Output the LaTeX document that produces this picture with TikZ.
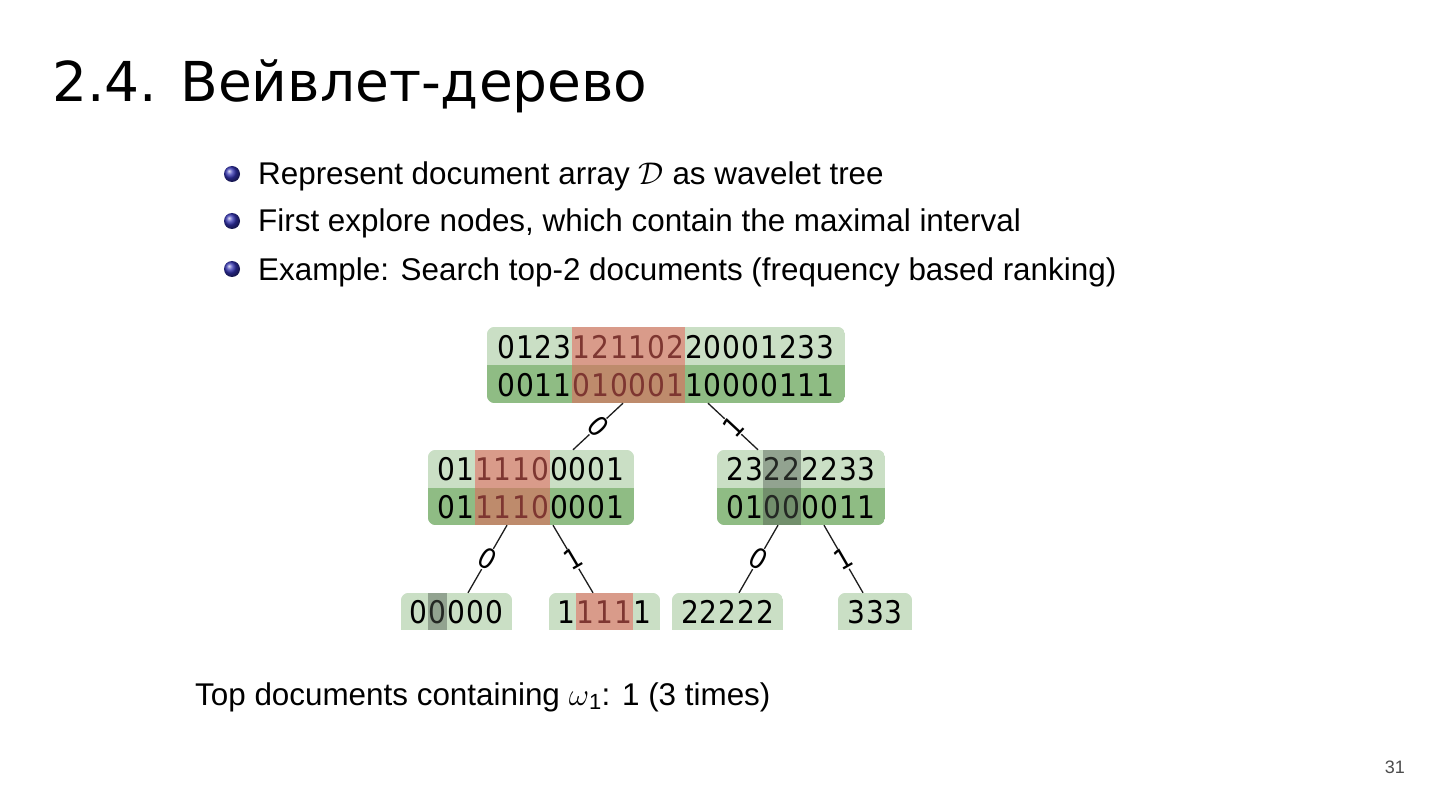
\RequirePackage{fix-cm}
\documentclass[tikz,border=0pt]{standalone}
\usepackage{fontspec}
\setmainfont{Liberation Sans}
\newfontfamily\titlefont{DejaVu Sans}
\newfontfamily\monofont{DejaVu Sans Condensed}[LetterSpace=3.0]
\usetikzlibrary{calc}
\pgfdeclarelayer{bg}
\pgfsetlayers{bg,main}
\definecolor{lgreen}{RGB}{202,223,197}
\definecolor{dgreen}{RGB}{143,188,132}
\definecolor{hlred}{RGB}{230,100,90}
\definecolor{hlgray}{RGB}{80,90,80}
\definecolor{bball}{rgb}{0.2,0.2,0.7}
\definecolor{edgecol}{RGB}{30,30,30}
\begin{document}
\begin{tikzpicture}[x=1pt,y=-1pt,
  boxnode/.style={inner sep=0pt, minimum height=#1},
  rowtxt/.style={inner sep=0pt, anchor=base, font=\monofont\fontsize{31.2}{36}\selectfont},
  bodytxt/.style={inner sep=0pt, anchor=base west, font=\fontsize{31.4}{36}\selectfont},
  edge/.style={draw=edgecol, line width=1.3pt},
  elabel/.style={fill=white, inner sep=1pt, font=\monofont\fontsize{28}{28}\selectfont, midway, sloped},
  redhl/.style={fill=hlred, opacity=0.55},
  grayhl/.style={fill=hlgray, opacity=0.45},
  bullet/.style={ball color=bball}
]
\useasboundingbox (0,0) rectangle (1440,810);

% title
\node[inner sep=0pt, anchor=base west, font=\titlefont\fontsize{55}{60}\selectfont] (title) at (52,102) {2.4. Вейвлет-дерево};

% bullets
\shade[bullet] (232,174) circle (8);
\shade[bullet] (232,221) circle (8);
\shade[bullet] (232,269) circle (8);
\node[bodytxt] (b1) at (258,185) {Represent document array $\mathcal{D}$ as wavelet tree};
\node[bodytxt] (b2) at (258,232) {First explore nodes, which contain the maximal interval};
\node[bodytxt] (b3) at (258,280) {Example: Search top-2 documents (frequency based ranking)};

% tree boxes
\node[boxnode=76pt, minimum width=358pt] (root) at (666,365) {};
\node[boxnode=75pt, minimum width=206pt] (lm) at (531,487.5) {};
\node[boxnode=75pt, minimum width=168pt] (rm) at (801,487.5) {};
\node[boxnode=37pt, minimum width=111pt] (l1) at (456.5,611.5) {};
\node[boxnode=37pt, minimum width=111pt] (l2) at (604.5,611.5) {};
\node[boxnode=37pt, minimum width=111pt] (l3) at (727.5,611.5) {};
\node[boxnode=37pt, minimum width=74pt] (l4) at (875,611.5) {};

% row texts
\node[rowtxt] (root-t) at (666,358) {012312110220001233};
\node[rowtxt] (root-b) at (666,396) {001101000110000111};
\node[rowtxt] (lm-t) at (531,480.5) {0111100001};
\node[rowtxt] (lm-b) at (531,518) {0111100001};
\node[rowtxt] (rm-t) at (801,480.5) {23222233};
\node[rowtxt] (rm-b) at (801,518) {01000011};
\node[rowtxt] (l1-t) at (456.5,623) {00000};
\node[rowtxt] (l2-t) at (604.5,623) {11111};
\node[rowtxt] (l3-t) at (727.5,623) {22222};
\node[rowtxt] (l4-t) at (875,623) {333};

% backgrounds
\begin{pgfonlayer}{bg}
  \fill[white] (0,0) rectangle (1440,810);
  \foreach \n in {root,lm,rm}{
    \begin{scope}
      \clip[rounded corners=8pt] (\n.north west) rectangle (\n.south east);
      \fill[lgreen] (\n.north west) rectangle (\n.east);
      \fill[dgreen] (\n.west) rectangle (\n.south east);
    \end{scope}
  }
  \foreach \n in {l1,l2,l3,l4}{
    \begin{scope}
      \clip[rounded corners=8pt] (\n.north west) rectangle ($(\n.south east)+(0,12)$);
      \fill[lgreen] (\n.north west) rectangle (\n.south east);
    \end{scope}
  }
\end{pgfonlayer}

% highlights
\fill[redhl] (572.1,327) rectangle (684.8,403);
\fill[redhl] (474.7,450) rectangle (549.8,525);
\fill[grayhl] (763.4,450) rectangle (801.0,525);
\fill[grayhl] (428.3,593) rectangle (447.1,630);
\fill[redhl] (576.3,593) rectangle (632.6,630);

% edges
\draw[edge] ([xshift=-43pt]root.south) -- node[elabel, rotate=-90] {0} ([xshift=42pt]lm.north);
\draw[edge] ([xshift=42pt]root.south) -- node[elabel, rotate=90] {1} ([xshift=-43pt]rm.north);
\draw[edge] ([xshift=-24pt]lm.south) -- node[elabel, rotate=-90] {0} ([xshift=11.5pt]l1.north);
\draw[edge] ([xshift=22pt]lm.south) -- node[elabel, rotate=90] {1} ([xshift=-11.5pt]l2.north);
\draw[edge] ([xshift=-23pt]rm.south) -- node[elabel, rotate=-90] {0} ([xshift=11.5pt]l3.north);
\draw[edge] ([xshift=23pt]rm.south) -- node[elabel, rotate=90] {1} ([xshift=-12pt]l4.north);

% bottom text
\node[bodytxt] (res) at (195,705) {Top documents containing $\omega$\textsubscript{1}: 1 (3 times)};

% page number
\node[inner sep=0pt, anchor=base east, text=black!70, font=\fontsize{18}{20}\selectfont] (page) at (1405,773) {31};
\end{tikzpicture}
\end{document}
